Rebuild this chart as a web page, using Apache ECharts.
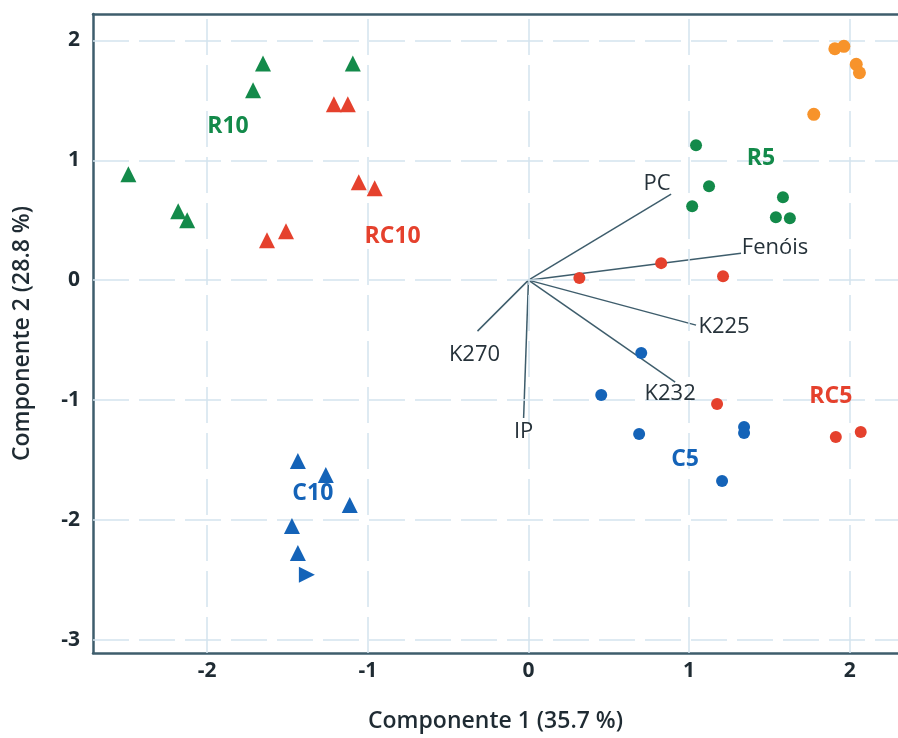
<!DOCTYPE html>
<html>
<head>
<meta charset="utf-8">
<script src="https://cdn.jsdelivr.net/npm/echarts@6/dist/echarts.min.js"></script>
<style>
  html, body { margin: 0; padding: 0; background: #fff; }
  #chart { width: 898px; height: 738px; }
</style>
</head>
<body>
<div id="chart"></div>
<script>
// PCA scores per treatment group: [PC1, PC2]
const R10 = [[-1.652, 1.808], [-1.093, 1.808], [-1.714, 1.583], [-2.49, 0.883], [-2.18, 0.575], [-2.124, 0.50]];
const RC10 = [[-1.211, 1.467], [-1.124, 1.467], [-1.056, 0.817], [-0.957, 0.767], [-1.627, 0.333], [-1.509, 0.408]];
const C10 = [[-1.435, -1.508], [-1.261, -1.625], [-1.112, -1.875], [-1.472, -2.05], [-1.435, -2.275]];
const C10_rot = [[-1.379, -2.458]];
const R5 = [[1.043, 1.125], [1.124, 0.783], [1.019, 0.617], [1.584, 0.692], [1.54, 0.525], [1.627, 0.517]];
const RC5 = [[0.317, 0.017], [0.826, 0.142], [1.211, 0.033], [1.174, -1.033], [1.913, -1.308], [2.068, -1.267]];
const C5 = [[0.702, -0.608], [0.453, -0.958], [0.689, -1.283], [1.342, -1.225], [1.342, -1.275], [1.205, -1.675]];
const OTHER = [[1.907, 1.93], [1.963, 1.95], [2.04, 1.80], [2.06, 1.73], [1.776, 1.383]];

// Variable loadings (arrow tips from the origin)
const loadingNames = ['PC', 'Fenóis', 'K225', 'K232', 'K270', 'IP'];
const loadingX = [0.888, 1.323, 1.043, 0.913, -0.317, -0.03];
const loadingY = [0.717, 0.225, -0.375, -0.85, -0.425, -1.15];

// Group annotations
const groupNames = ['R10', 'RC10', 'R5', 'RC5', 'C5', 'C10'];
const groupX = [-1.87, -0.845, 1.447, 1.882, 0.975, -1.342];
const groupY = [1.283, 0.367, 1.017, -0.967, -1.492, -1.783];

// Axis ticks
const xTicks = [-2, -1, 0, 1, 2];
const yTicks = [2, 1, 0, -1, -2, -3];

const GREEN = '#138a4a', RED = '#e5412d', BLUE = '#1463b8', ORANGE = '#f7932b';
const AXIS = '#3e5d6c';
const FONT = '"Open Sans", "Noto Sans", sans-serif';

const groupColor = { R10: GREEN, RC10: RED, R5: GREEN, RC5: RED, C5: BLUE, C10: BLUE };
// label placement relative to each arrow tip, in pixels
const loadingLabelOffset = {
  'PC': [-14, -10], 'Fenóis': [34, -5], 'K225': [28, 2],
  'K232': [-5, 12], 'K270': [-3, 24], 'IP': [0, 14]
};

const chart = echarts.init(document.getElementById('chart'));

const series = [];

// dashed grid lines at the tick values
series.push({
  type: 'scatter', data: [], silent: true, z: 1,
  markLine: {
    silent: true, symbol: 'none', label: { show: false },
    lineStyle: { color: '#d3e4ee', width: 1.5, type: [36, 10] },
    data: xTicks.map(v => ({ xAxis: v })).concat(yTicks.map(v => ({ yAxis: v })))
  }
});

function pts(name, data, color, symbol, size, rotate) {
  series.push({
    name, type: 'scatter', data, symbol, symbolSize: size, symbolRotate: rotate || 0,
    itemStyle: { color, opacity: 1 }, z: 5
  });
}
pts('R10', R10, GREEN, 'triangle', 16);
pts('RC10', RC10, RED, 'triangle', 16);
pts('C10', C10, BLUE, 'triangle', 16);
pts('C10b', C10_rot, BLUE, 'triangle', 16, -90);
pts('R5', R5, GREEN, 'circle', 12);
pts('RC5', RC5, RED, 'circle', 12);
pts('C5', C5, BLUE, 'circle', 12);
pts('O', OTHER, ORANGE, 'circle', 13);

loadingNames.forEach((n, i) => {
  series.push({
    type: 'line', data: [[0, 0], [loadingX[i], loadingY[i]]], showSymbol: false, symbol: 'none',
    lineStyle: { color: AXIS, width: 1.5 }, z: 4, silent: true
  });
});

series.push({
  type: 'scatter', symbolSize: 0, z: 6, silent: true,
  itemStyle: { opacity: 1 },
  data: loadingNames.map((n, i) => ({
    value: [loadingX[i], loadingY[i]], name: n,
    label: { offset: loadingLabelOffset[n] }
  })),
  label: {
    show: true, position: 'inside', formatter: p => p.name,
    color: '#26323a', fontSize: 22, fontFamily: FONT, fontWeight: 'normal'
  }
});

series.push({
  type: 'scatter', symbolSize: 0, z: 6, silent: true,
  itemStyle: { opacity: 1 },
  data: groupNames.map((n, i) => ({
    value: [groupX[i], groupY[i]], name: n,
    label: { color: groupColor[n] }
  })),
  label: {
    show: true, position: 'inside', formatter: p => p.name,
    fontSize: 23, fontFamily: FONT, fontWeight: 'bold'
  }
});

const tickLabel = { color: '#1f2b33', fontSize: 21, fontWeight: 'bold', fontFamily: FONT };

chart.setOption({
  animation: false,
  backgroundColor: '#fff',
  grid: { left: 93, right: -2, top: 14, bottom: 85 },
  xAxis: [{
    type: 'value', min: -2.71, max: 2.30,
    axisLine: { show: true, onZero: false, lineStyle: { color: AXIS, width: 2.5 } },
    axisTick: { show: false },
    splitLine: { show: false },
    axisLabel: Object.assign({ margin: 8, customValues: xTicks }, tickLabel),
    name: 'Componente 1 (35.7 %)', nameLocation: 'middle', nameGap: 57,
    nameTextStyle: { color: '#1f2b33', fontSize: 23, fontWeight: 600, fontFamily: FONT }
  }, {
    type: 'value', position: 'top', min: -2.71, max: 2.30,
    axisLine: { show: true, onZero: false, lineStyle: { color: AXIS, width: 2.5 } },
    axisTick: { show: false }, axisLabel: { show: false }, splitLine: { show: false }
  }],
  yAxis: {
    type: 'value', min: -3.11, max: 2.22,
    axisLine: { show: true, onZero: false, lineStyle: { color: AXIS, width: 2.5 } },
    axisTick: { show: false },
    splitLine: { show: false },
    axisLabel: Object.assign({ margin: 13, customValues: yTicks }, tickLabel),
    name: 'Componente 2 (28.8 %)', nameLocation: 'middle', nameGap: 59, nameRotate: 90,
    nameTextStyle: { color: '#1f2b33', fontSize: 23, fontWeight: 600, fontFamily: FONT }
  },
  series
});
</script>
</body>
</html>
